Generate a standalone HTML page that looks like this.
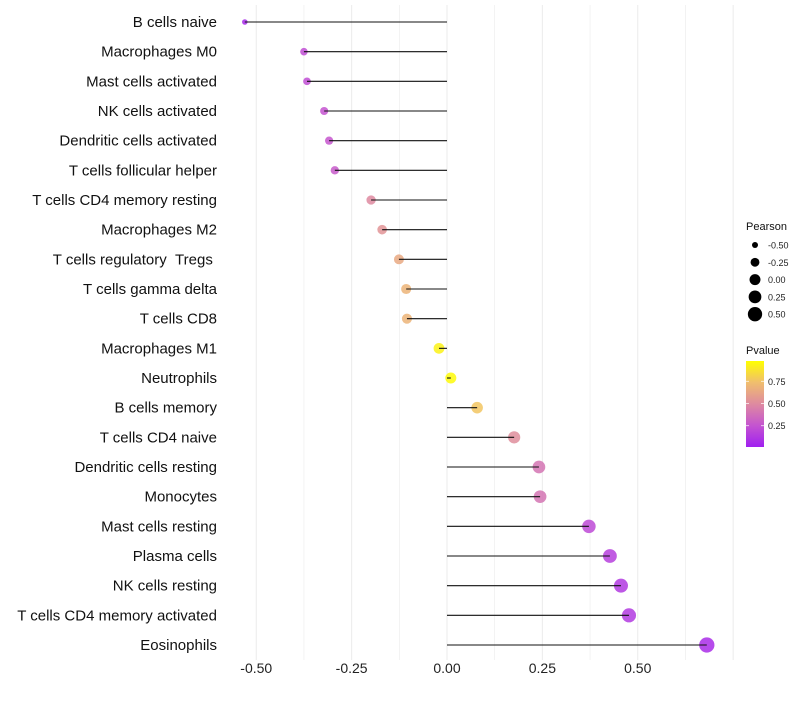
<!DOCTYPE html>
<html><head><meta charset="utf-8"><style>
body{margin:0;background:#fff;font-family:"Liberation Sans",sans-serif}
</style></head><body>
<svg id="c" width="800" height="700" xmlns="http://www.w3.org/2000/svg" font-family="Liberation Sans, sans-serif"></svg>
<script>
const categories=["B cells naive","Macrophages M0","Mast cells activated","NK cells activated","Dendritic cells activated","T cells follicular helper","T cells CD4 memory resting","Macrophages M2","T cells regulatory\u00a0\u00a0Tregs\u00a0","T cells gamma delta","T cells CD8","Macrophages M1","Neutrophils","B cells memory","T cells CD4 naive","Dendritic cells resting","Monocytes","Mast cells resting","Plasma cells","NK cells resting","T cells CD4 memory activated","Eosinophils"];
const pearson=[-0.53,-0.375,-0.367,-0.322,-0.309,-0.294,-0.199,-0.170,-0.126,-0.107,-0.105,-0.021,0.010,0.079,0.176,0.241,0.244,0.372,0.427,0.456,0.477,0.681];
const pvalue=[0.05,0.22,0.22,0.25,0.26,0.28,0.5,0.55,0.65,0.7,0.7,0.95,0.98,0.78,0.52,0.4,0.4,0.2,0.15,0.12,0.12,0.06];
const xTicks=[-0.5,-0.25,0,0.25,0.5];
const xTickLabels=["-0.50","-0.25","0.00","0.25","0.50"];
const sizeLegend=[-0.5,-0.25,0,0.25,0.5];
const sizeLegendLabels=["-0.50","-0.25","0.00","0.25","0.50"];
const pvTicks=[0.75,0.5,0.25];
const pvTickLabels=["0.75","0.50","0.25"];

const svg=document.getElementById('c');const NS="http://www.w3.org/2000/svg";
function mk(t,a,p){const e=document.createElementNS(NS,t);for(const k in a)e.setAttribute(k,a[k]);(p||svg).appendChild(e);return e;}
const x=v=>447+v*381.5;
const y=i=>22+i*29.667;
const r=v=>Math.sqrt(Math.max(4,9+42*(v+0.5)));
const stops=[[0,[160,32,240]],[0.25,[196,84,208]],[0.5,[222,138,160]],[0.75,[240,190,110]],[1,[255,255,0]]];
function col(p){p=Math.max(0,Math.min(1,p));for(let i=1;i<stops.length;i++){if(p<=stops[i][0]){const a=stops[i-1],b=stops[i],t=(p-a[0])/(b[0]-a[0]);return 'rgb('+a[1].map((c,j)=>Math.round(c+(b[1][j]-c)*t)).join(',')+')';}}return 'rgb(255,255,0)';}
const grid=mk('g',{});
for(let v=-0.5;v<=0.751;v+=0.125){const l=mk('line',{x1:x(v),x2:x(v),y1:5,y2:660,stroke:'#ebebeb','stroke-width':v*8%2==0?1:0.6},grid);}
xTicks.forEach((v,i)=>{const t=mk('text',{x:x(v),y:673,'text-anchor':'middle','font-size':14,fill:'#222'});t.textContent=xTickLabels[i];});
categories.forEach((c,i)=>{
 const t=mk('text',{x:217,y:y(i)+5,'text-anchor':'end','font-size':15,fill:'#111'});t.textContent=c;
 const pt=mk('circle',{cx:x(pearson[i]),cy:y(i),r:r(pearson[i]),fill:col(pvalue[i]),'fill-opacity':0.85});
 const s=mk('line',{x1:x(0),x2:x(pearson[i]),y1:y(i),y2:y(i),stroke:'#111','stroke-width':1.1});
});
const lt=mk('text',{x:746,y:230,'font-size':11,fill:'#111'});lt.textContent='Pearson';
sizeLegend.forEach((v,i)=>{const yy=245+i*17.3;const c=mk('circle',{cx:755,cy:yy,r:r(v),fill:'#000'});
 const t=mk('text',{x:768,y:yy+3.5,'font-size':9,fill:'#222'});t.textContent=sizeLegendLabels[i];});
const pt2=mk('text',{x:746,y:354,'font-size':11,fill:'#111'});pt2.textContent='Pvalue';
const defs=mk('defs',{});const g=mk('linearGradient',{id:'pg',x1:0,y1:1,x2:0,y2:0},defs);
stops.forEach(s=>mk('stop',{offset:s[0],'stop-color':col(s[0])},g));
const bar=mk('rect',{x:746,y:361,width:18,height:86,fill:'url(#pg)'});
const pv=v=>446-(v-0.02)/(0.98-0.02)*85;
pvTicks.forEach((v,i)=>{mk('line',{x1:746,x2:749,y1:pv(v),y2:pv(v),stroke:'#fff','stroke-opacity':0.7});mk('line',{x1:761,x2:764,y1:pv(v),y2:pv(v),stroke:'#fff','stroke-opacity':0.7});
 const t=mk('text',{x:768,y:pv(v)+3.5,'font-size':9,fill:'#222'});t.textContent=pvTickLabels[i];});
</script>
</body></html>
